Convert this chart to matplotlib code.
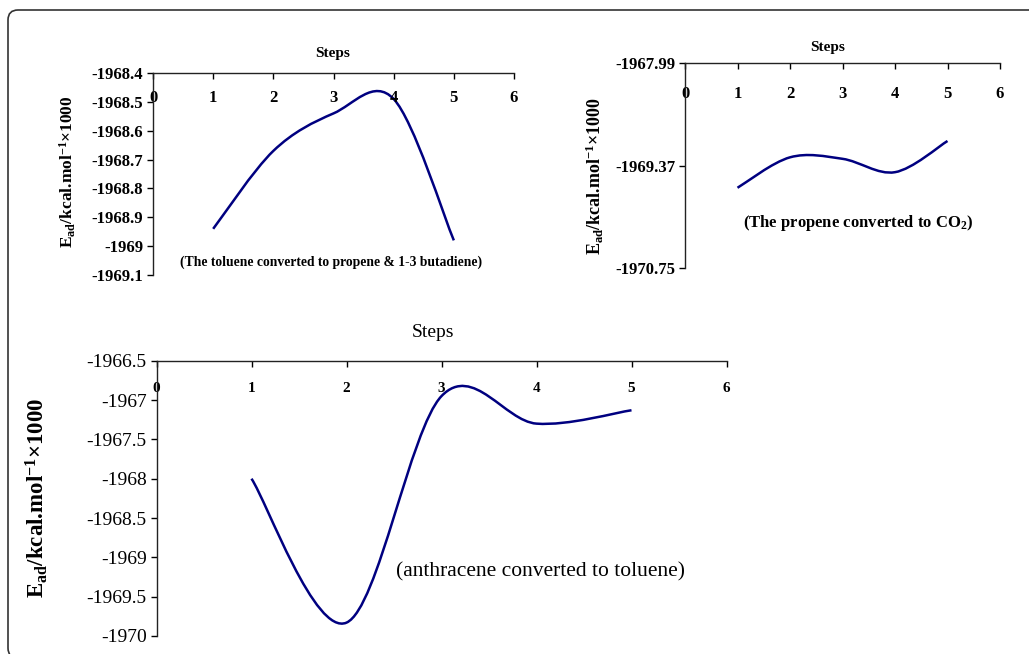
import numpy as np
import matplotlib
matplotlib.use('Agg')
from matplotlib import pyplot as plt
from matplotlib.path import Path
from matplotlib.patches import PathPatch, FancyBboxPatch
from matplotlib.transforms import IdentityTransform

plt.rcParams['font.family'] = ['Liberation Serif', 'DejaVu Serif']
plt.rcParams['mathtext.fontset'] = 'custom'
plt.rcParams['mathtext.rm'] = 'Liberation Serif:bold'
plt.rcParams['mathtext.it'] = 'Liberation Serif:bold'
plt.rcParams['mathtext.bf'] = 'Liberation Serif:bold'
plt.rcParams['axes.unicode_minus'] = False

W, H = 1029, 654

# data
steps = [1, 2, 3, 4, 5]
toluene = [-1968.94, -1968.67, -1968.54, -1968.49, -1968.98]
propene = [-1969.67, -1969.26, -1969.28, -1969.46, -1969.04]
anthracene = [-1968.0, -1969.83, -1966.95, -1967.30, -1967.13]

xticks = [0, 1, 2, 3, 4, 5, 6]
yticks1 = [-1968.4, -1968.5, -1968.6, -1968.7, -1968.8, -1968.9, -1969, -1969.1]
yticks2 = [-1967.99, -1969.37, -1970.75]
yticks3 = [-1966.5, -1967, -1967.5, -1968, -1968.5, -1969, -1969.5, -1970]

ylab = 'E$_{ad}$/kcal.mol$^{-1}$\u00d71000'
LINE = '#000080'


def smooth_path(xs, ys):
    # excel style smoothed line: bezier segments through the points
    pts = np.column_stack([xs, ys]).astype(float)
    n = len(pts)
    verts = [pts[0]]
    codes = [Path.MOVETO]
    for i in range(n - 1):
        p0 = pts[i - 1] if i > 0 else pts[i]
        p1, p2 = pts[i], pts[i + 1]
        p3 = pts[i + 2] if i + 2 < n else pts[i + 1]
        verts += [p1 + (p2 - p0) / 6, p2 - (p3 - p1) / 6, p2]
        codes += [Path.CURVE4] * 3
    return Path(verts, codes)


def px_axes(fig, x0, x1, ytop, ybot):
    return fig.add_axes([x0 / W, 1 - ybot / H, (x1 - x0) / W, (ybot - ytop) / H])


def style(ax, yticks, ysize, yweight, xsize, xpad):
    for s in ['right', 'bottom']:
        ax.spines[s].set_visible(False)
    for s in ['left', 'top']:
        ax.spines[s].set_linewidth(1.0)
        ax.spines[s].set_color('#222222')
    ax.set_xlim(0, 6)
    ax.set_ylim(min(yticks), max(yticks))
    ax.xaxis.tick_top()
    ax.set_xticks(xticks)
    ax.set_xticklabels([str(t) for t in xticks], fontsize=xsize, fontweight='bold')
    ax.tick_params(axis='x', direction='in', length=4, width=1, pad=xpad)
    ax.set_yticks(yticks)
    ax.set_yticklabels(['%g' % t for t in yticks], fontsize=ysize, fontweight=yweight)
    ax.tick_params(axis='y', direction='out', length=4, width=1, pad=3)
    ax.patch.set_visible(False)


def ftext(fig, x, y, s, **kw):
    fig.text(x / W, 1 - y / H, s, ha='center', va='center', **kw)


fig = plt.figure(figsize=(W / 100, H / 100), dpi=100)

# outer frame
fig.add_artist(FancyBboxPatch((8, -4), 1060, 648, boxstyle='round,pad=0,rounding_size=10',
                              transform=IdentityTransform(), fill=False,
                              edgecolor='#333333', linewidth=1.2))

# top left panel
ax1 = px_axes(fig, 153, 514, 73, 275)
style(ax1, yticks1, 12, 'bold', 12, -24)
ax1.add_patch(PathPatch(smooth_path(steps, toluene), fill=False, edgecolor=LINE, linewidth=1.8))
ftext(fig, 333, 54, 'Steps', fontsize=11, fontweight='bold')
ftext(fig, 68, 172, ylab, fontsize=12.5, fontweight='bold', rotation=90)
ftext(fig, 331, 262, '(The toluene converted to propene & 1-3 butadiene)', fontsize=9.8, fontweight='bold')

# top right panel
ax2 = px_axes(fig, 685, 1000, 63, 268)
style(ax2, yticks2, 12, 'bold', 12, -28)
ax2.add_patch(PathPatch(smooth_path(steps, propene), fill=False, edgecolor=LINE, linewidth=1.8))
ftext(fig, 828, 47, 'Steps', fontsize=11, fontweight='bold')
ftext(fig, 595, 176, ylab, fontsize=13, fontweight='bold', rotation=90)
ftext(fig, 858, 223, '(The propene converted to CO$_2$)', fontsize=12, fontweight='bold')

# bottom panel
ax3 = px_axes(fig, 156.5, 726.5, 360.7, 636)
style(ax3, yticks3, 14, 'normal', 11, -25)
ax3.add_patch(PathPatch(smooth_path(steps, anthracene), fill=False, edgecolor=LINE, linewidth=1.8))
ftext(fig, 433, 333, 'Steps', fontsize=14)
ftext(fig, 37, 498, ylab, fontsize=16.5, fontweight='bold', rotation=90)
ftext(fig, 540, 572, '(anthracene converted to toluene)', fontsize=15.5)

fig.savefig('out.png', dpi=100)
